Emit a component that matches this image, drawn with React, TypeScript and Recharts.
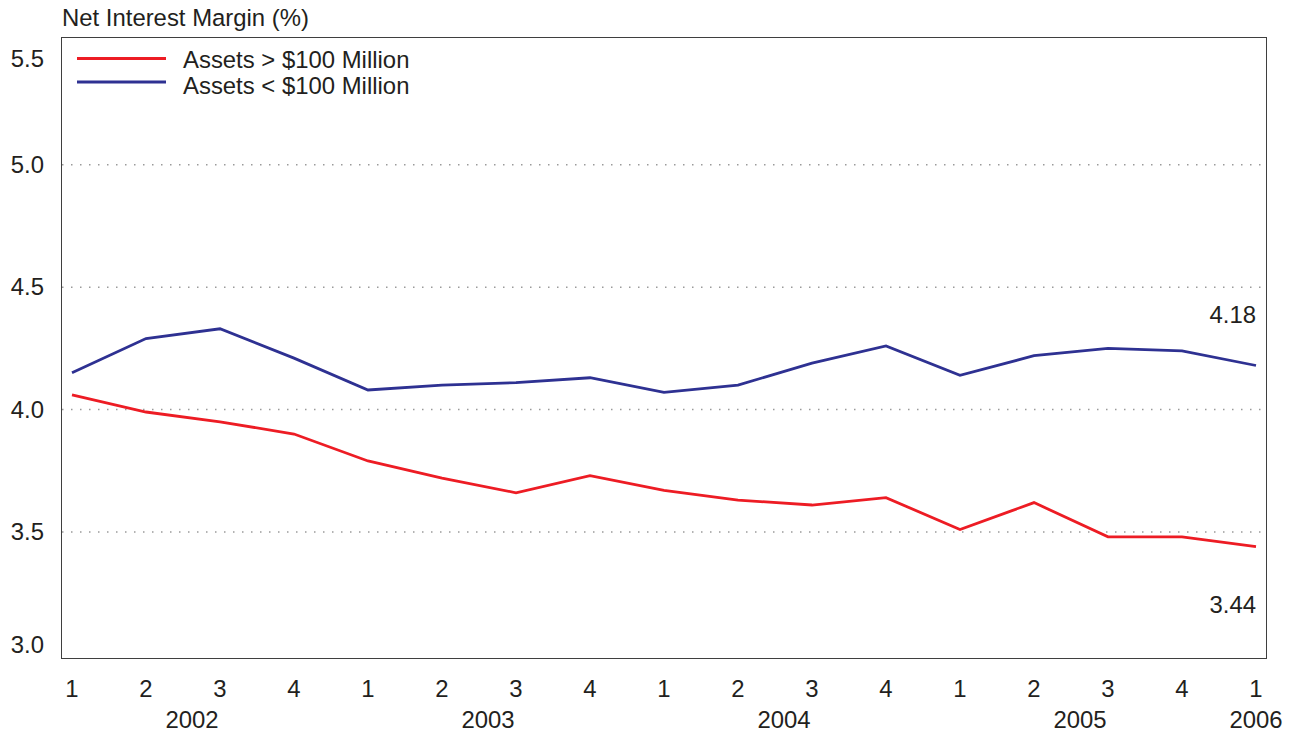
import React from 'react';
import { LineChart, Line, XAxis, YAxis, ReferenceLine, Legend } from 'recharts';

const periods = ['2002Q1','2002Q2','2002Q3','2002Q4','2003Q1','2003Q2','2003Q3','2003Q4','2004Q1','2004Q2','2004Q3','2004Q4','2005Q1','2005Q2','2005Q3','2005Q4','2006Q1'];
const quarterLabels = ['1','2','3','4','1','2','3','4','1','2','3','4','1','2','3','4','1'];
const yearLabels = ['2002','2003','2004','2005','2006'];
const largeBanks = [4.06, 3.99, 3.95, 3.90, 3.79, 3.72, 3.66, 3.73, 3.67, 3.63, 3.61, 3.64, 3.51, 3.62, 3.48, 3.48, 3.44];
const smallBanks = [4.15, 4.29, 4.33, 4.21, 4.08, 4.10, 4.11, 4.13, 4.07, 4.10, 4.19, 4.26, 4.14, 4.22, 4.25, 4.24, 4.18];
const yTicks = [3.0, 3.5, 4.0, 4.5, 5.0, 5.5];
const gridValues = [3.5, 4.0, 4.5, 5.0];
const seriesNames = ['Assets > $100 Million', 'Assets < $100 Million'];
const title = 'Net Interest Margin (%)';

const RED = '#ed1c24';
const BLUE = '#2e3192';
const TEXT = '#231f20';
const FONT = '"Liberation Sans", Arial, Helvetica, sans-serif';
const FS = 23.9;
const LW = 2.8;

const data = periods.map((p, i) => ({ period: p, large: largeBanks[i], small: smallBanks[i] }));

const YTick = (props: any) => {
  const { y, payload } = props;
  let dy = 0;
  if (payload.value === 5.5) dy = 17;
  if (payload.value === 3.0) dy = -9;
  return (
    <text x={44} y={y + dy + 8} textAnchor="end" fontSize={FS} fontFamily={FONT} fill={TEXT}>
      {Number(payload.value).toFixed(1)}
    </text>
  );
};

const XTick = (props: any) => {
  const { x, y, payload } = props;
  const idx = payload.index ?? props.index;
  let year: string | null = null;
  let yx = x;
  if (idx === 1 || idx === 5 || idx === 9 || idx === 13) {
    year = yearLabels[(idx - 1) / 4];
    yx = x + 46;
  } else if (idx === 16) {
    year = yearLabels[4];
  }
  return (
    <g>
      <text x={x} y={y + 39} textAnchor="middle" fontSize={FS} fontFamily={FONT} fill={TEXT}>
        {quarterLabels[idx]}
      </text>
      {year && (
        <text x={yx} y={y + 70} textAnchor="middle" fontSize={FS} fontFamily={FONT} fill={TEXT}>
          {year}
        </text>
      )}
    </g>
  );
};

const makeEndLabel = (offset: number) => (p: any) => {
  const { x, y, index, value } = p;
  if (index !== periods.length - 1) return null;
  return (
    <text key="end" x={x} y={y + offset} textAnchor="end" fontSize={FS} fontFamily={FONT} fill={TEXT}>
      {Number(value).toFixed(2)}
    </text>
  );
};

const LegendContent = () => (
  <svg width={440} height={100} style={{ display: 'block' }}>
    <line x1={77} x2={166} y1={58.5} y2={58.5} stroke={RED} strokeWidth={LW} />
    <line x1={77} x2={166} y1={82} y2={82} stroke={BLUE} strokeWidth={LW} />
    <text x={183} y={68} fontSize={FS} fontFamily={FONT} fill={TEXT}>{seriesNames[0]}</text>
    <text x={183} y={94} fontSize={FS} fontFamily={FONT} fill={TEXT}>{seriesNames[1]}</text>
  </svg>
);

export default function App() {
  return (
    <div style={{ position: 'absolute', left: 0, top: 0, width: 1301, height: 734, background: '#fff' }}>
      <div style={{ position: 'absolute', left: 62, top: 4, fontSize: FS, fontFamily: FONT, color: TEXT, lineHeight: '28px', whiteSpace: 'nowrap' }}>
        {title}
      </div>
      <LineChart width={1301} height={734} data={data} margin={{ top: 38, right: 35, bottom: 0, left: 0 }}>
        <XAxis
          dataKey="period"
          type="category"
          height={76}
          padding={{ left: 10, right: 10 }}
          tickLine={false}
          tickSize={0}
          tickMargin={0}
          axisLine={false}
          tick={<XTick />}
          interval={0}
        />
        <YAxis
          width={62}
          domain={[2.985, 5.518]}
          ticks={yTicks}
          allowDataOverflow
          tickLine={false}
          axisLine={false}
          tick={<YTick />}
          interval={0}
        />
        {gridValues.map((v) => (
          <ReferenceLine key={v} y={v} stroke="#9a9a9a" strokeWidth={1.5} strokeDasharray="1.5 7.5" />
        ))}
        <Legend
          layout="vertical"
          align="center"
          verticalAlign="middle"
          wrapperStyle={{ position: 'absolute', left: 0, top: 0, width: 440, height: 100 }}
          content={<LegendContent />}
        />
        <Line
          type="linear"
          dataKey="large"
          name={seriesNames[0]}
          stroke={RED}
          strokeWidth={LW}
          dot={false}
          isAnimationActive={false}
          label={makeEndLabel(66)}
        />
        <Line
          type="linear"
          dataKey="small"
          name={seriesNames[1]}
          stroke={BLUE}
          strokeWidth={LW}
          dot={false}
          isAnimationActive={false}
          label={makeEndLabel(-43)}
        />
      </LineChart>
      <div
        style={{
          position: 'absolute',
          left: 61,
          top: 37,
          width: 1206,
          height: 622,
          boxSizing: 'border-box',
          border: '1.2px solid #3f3f3f',
          pointerEvents: 'none',
        }}
      />
    </div>
  );
}
